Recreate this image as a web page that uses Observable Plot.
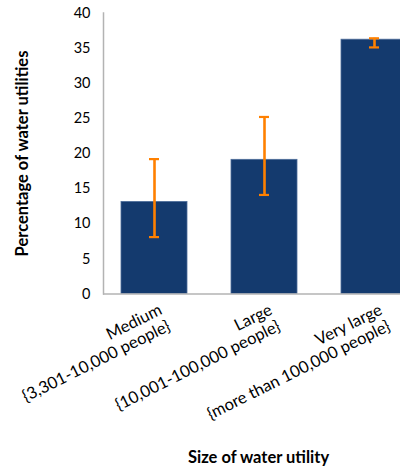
<!DOCTYPE html>
<html>
<head>
<meta charset="utf-8">
<script src="https://cdn.jsdelivr.net/npm/d3@7"></script>
<script src="https://cdn.jsdelivr.net/npm/@observablehq/plot@0.6"></script>
<style>
  html, body { margin: 0; padding: 0; background: #fff; }
  #chart { width: 400px; height: 474px; overflow: hidden; }
</style>
</head>
<body>
<div id="chart"></div>
<script>
const categories = ["Medium", "Large", "Very large"];
const categoryDetails = ["{3,301-10,000 people}", "{10,001-100,000 people}", "{more than 100,000 people}"];
const percentages = [13.1, 19.1, 36.2];
const errorLow = [8.1, 14.1, 35.1];
const errorHigh = [19.2, 25.2, 36.4];
const yTicks = [0, 5, 10, 15, 20, 25, 30, 35, 40];
const yLabel = "Percentage of water utilities";
const xLabel = "Size of water utility";

const data = categories.map((c, i) => ({
  cat: c, label: c + "\n" + categoryDetails[i],
  value: percentages[i], lo: errorLow[i], hi: errorHigh[i]
}));

const font = "Lato, 'Open Sans', sans-serif";
const navy = "#143a6e";
const orange = "#ff8000";
const axisGray = "#b3b3b3";

const chart = Plot.plot({
  width: 400,
  height: 474,
  marginLeft: 103,
  marginRight: 0,
  marginTop: 12.5,
  marginBottom: 180.5,
  style: { fontFamily: font, background: "#fff", overflow: "hidden" },
  x: { domain: categories, range: [103, 426], paddingInner: 0.396, paddingOuter: 0.153, axis: null },
  y: { domain: [0, 40], axis: null },
  marks: [
    Plot.barY(data, { x: "cat", y: "value", fill: navy, stroke: "#4d6d9a", strokeWidth: 0.8 }),
    Plot.ruleX(data, { x: "cat", y1: "lo", y2: "hi", stroke: orange, strokeWidth: 2.6 }),
    Plot.tickY(data, { x: "cat", y: "lo", stroke: orange, strokeWidth: 2.2, insetLeft: 28, insetRight: 28 }),
    Plot.tickY(data, { x: "cat", y: "hi", stroke: orange, strokeWidth: 2.2, insetLeft: 28, insetRight: 28 }),
    Plot.axisY({ ticks: yTicks, tickSize: 0, tickPadding: 13, fontSize: 14.5, fill: "#000", label: null }),
    Plot.frame({ anchor: "left", stroke: axisGray, strokeWidth: 1.5 }),
    Plot.ruleY([0], { stroke: axisGray, strokeWidth: 1.5 }),
    Plot.text(data, {
      x: "cat", frameAnchor: "bottom", text: "label", rotate: -26.5,
      textAnchor: "end", lineAnchor: "top", dx: 3, dy: 8,
      fontSize: 16.5, lineHeight: 1.1, fill: "#000"
    }),
    Plot.text([yLabel], { frameAnchor: "left", textAnchor: "middle", rotate: -90, dx: -81, fontSize: 16.5, fontWeight: "bold", fill: "#000" }),
    Plot.text([xLabel], { frameAnchor: "bottom", textAnchor: "middle", dx: 6.5, dy: 168.5, fontSize: 16.5, fontWeight: "bold", fill: "#000" })
  ]
});
document.getElementById("chart").appendChild(chart);
</script>
</body>
</html>
